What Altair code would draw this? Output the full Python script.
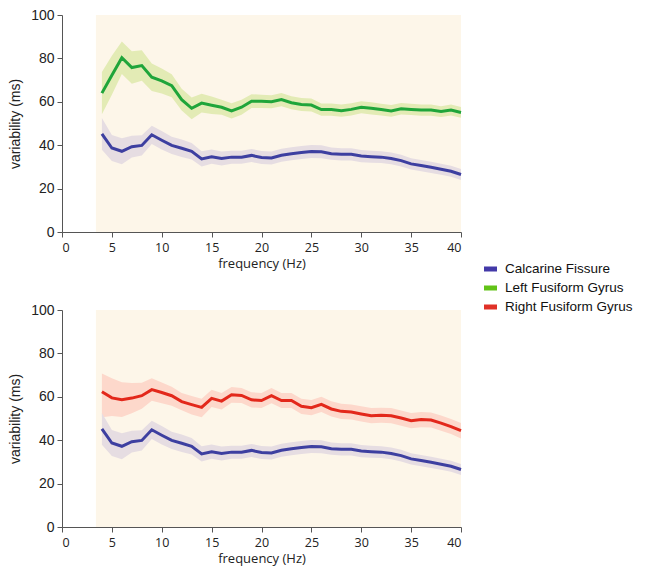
import altair as alt
import pandas as pd

freq = list(range(4, 41))

series_names = ["Calcarine Fissure", "Left Fusiform Gyrus", "Right Fusiform Gyrus"]
line_colors = ["#3d3fa0", "#1fa53a", "#e3281b"]
band_colors = ["#e6dde2", "#e3ebb5", "#fdd8cb"]
legend_colors = ["#4339a8", "#62c318", "#e03127"]

calc_mean = [45.2, 38.7, 37.2, 39.3, 39.9, 44.8, 42.3, 39.9, 38.6, 37.2, 33.7, 34.7, 33.9,
             34.5, 34.5, 35.3, 34.3, 34.1, 35.4, 36.1, 36.6, 37.1, 37.0, 36.1, 35.8, 35.8,
             35.0, 34.7, 34.5, 33.9, 32.9, 31.4, 30.6, 29.8, 28.9, 28.0, 26.5]
calc_err = [7.3, 6.0, 6.0, 5.0, 4.7, 4.2, 4.3, 4.0, 4.0, 3.8, 3.5, 3.3, 3.2, 3.0, 3.0, 3.0,
            3.0, 3.0, 3.0, 3.0, 3.0, 3.0, 3.0, 2.8, 2.8, 2.8, 2.8, 2.8, 2.7, 2.7, 2.7, 2.6,
            2.6, 2.6, 2.5, 2.5, 2.5]

lfg_mean = [64.0, 72.2, 80.3, 75.8, 76.7, 71.3, 69.6, 67.4, 61.0, 57.0, 59.4, 58.4, 57.5,
            55.8, 57.5, 60.3, 60.2, 60.0, 61.0, 59.6, 58.8, 58.5, 56.4, 56.4, 55.9, 56.5,
            57.5, 57.0, 56.4, 55.8, 56.8, 56.5, 56.2, 56.2, 55.5, 56.2, 55.1]
lfg_err = [9.7, 9.0, 7.5, 7.5, 7.0, 6.3, 5.8, 5.3, 5.0, 5.0, 4.3, 4.0, 3.5, 3.5, 3.5, 3.2,
           3.0, 3.0, 3.0, 3.0, 3.0, 3.0, 2.8, 2.8, 2.8, 2.8, 2.8, 2.8, 2.7, 2.7, 2.7, 2.6,
           2.6, 2.6, 2.5, 2.5, 2.5]

rfg_mean = [62.3, 59.5, 58.7, 59.4, 60.5, 63.3, 62.0, 60.5, 57.8, 56.4, 55.1, 59.3, 58.0,
            60.9, 60.6, 58.6, 58.3, 60.5, 58.3, 58.3, 55.6, 55.0, 56.5, 54.4, 53.3, 53.0,
            52.1, 51.3, 51.5, 51.3, 50.2, 49.0, 49.5, 49.3, 47.9, 46.3, 44.4]
rfg_err_hi = [8.4, 9.0, 8.0, 7.0, 6.0, 5.2, 4.6, 4.1, 4.0, 4.0, 4.0, 4.0, 3.8, 3.6, 3.5,
              3.5, 3.5, 3.5, 3.5, 3.5, 3.5, 3.5, 3.5, 3.5, 3.5, 3.5, 3.5, 3.5, 3.5, 3.5,
              3.5, 3.5, 3.5, 3.5, 3.5, 3.5, 3.5]
rfg_err_lo = [11.7, 8.3, 8.0, 7.0, 6.0, 5.1, 5.0, 4.6, 4.0, 4.5, 4.5, 4.0, 3.8, 3.6, 3.5,
              3.5, 3.5, 3.5, 3.5, 3.5, 3.5, 3.5, 3.5, 3.5, 3.5, 3.5, 3.5, 3.5, 3.5, 3.5,
              3.5, 3.5, 3.5, 3.5, 3.5, 3.5, 3.6]

x_ticks = [0, 5, 10, 15, 20, 25, 30, 35, 40]
y_ticks = [0, 20, 40, 60, 80, 100]
bg_start, bg_end = 3.4, 40
bg_color = "#fdf6e9"


def make_df(name, mean, lo_err, hi_err):
    return pd.DataFrame({
        "freq": freq,
        "series": name,
        "mean": mean,
        "lo": [m - e for m, e in zip(mean, lo_err)],
        "hi": [m + e for m, e in zip(mean, hi_err)],
    })


calc_df = make_df(series_names[0], calc_mean, calc_err, calc_err)
lfg_df = make_df(series_names[1], lfg_mean, lfg_err, lfg_err)
rfg_df = make_df(series_names[2], rfg_mean, rfg_err_lo, rfg_err_hi)
bg_df = pd.DataFrame({"x0": [bg_start], "x1": [bg_end], "y0": [0], "y1": [100]})
legend_df = pd.DataFrame({"series": series_names})

x_scale = alt.Scale(domain=[0, 40], nice=False, zero=False)
y_scale = alt.Scale(domain=[0, 100], nice=False)
x_axis = alt.Axis(values=x_ticks, title="frequency (Hz)", labelFont="Open Sans",
                  labelFontSize=12.5, titleFont="Open Sans", titleFontSize=13,
                  titleFontWeight="normal", labelPadding=4, titlePadding=4)
y_axis = alt.Axis(values=y_ticks, title="variability (ms)", labelFont="Liberation Sans",
                  labelFontSize=14, titleFont="Liberation Sans", titleFontSize=14,
                  titleFontWeight="normal", labelPadding=3, titlePadding=8)

fill_scale = alt.Scale(domain=series_names, range=band_colors)
stroke_scale = alt.Scale(domain=series_names, range=line_colors)


def panel(df):
    bg = alt.Chart(bg_df).mark_rect(color=bg_color).encode(
        x=alt.X("x0:Q", scale=x_scale, axis=x_axis),
        x2="x1",
        y=alt.Y("y0:Q", scale=y_scale, axis=y_axis),
        y2="y1",
    )
    band = alt.Chart(df).mark_area(opacity=1).encode(
        x=alt.X("freq:Q", scale=x_scale),
        y=alt.Y("lo:Q", scale=y_scale),
        y2="hi",
        fill=alt.Fill("series:N", scale=fill_scale, legend=None),
    )
    line = alt.Chart(df).mark_line(strokeWidth=3).encode(
        x=alt.X("freq:Q", scale=x_scale),
        y=alt.Y("mean:Q", scale=y_scale),
        stroke=alt.Stroke("series:N", scale=stroke_scale, legend=None),
    )
    return alt.layer(bg, band, line).properties(width=399, height=217)


top = panel(pd.concat([lfg_df, calc_df]))
bottom = panel(pd.concat([rfg_df, calc_df]))

# legend drawn as its own small view
leg_y = alt.Y("series:N", scale=alt.Scale(type="point", domain=series_names,
                                          range=[254, 292], padding=0), axis=None)
leg_swatch = alt.Chart(legend_df).mark_rule(strokeWidth=5).encode(
    y=leg_y,
    x=alt.value(0),
    x2=alt.value(13),
    color=alt.Color("series:N", scale=alt.Scale(domain=series_names, range=legend_colors),
                    legend=None),
)
leg_text = alt.Chart(legend_df).mark_text(
    align="left", baseline="middle", font="Liberation Sans", fontSize=13.5, color="#111"
).encode(
    y=leg_y,
    x=alt.value(21),
    text="series:N",
)
legend_chart = alt.layer(leg_swatch, leg_text).properties(width=165, height=300)

panels = alt.vconcat(top, bottom, spacing=32)

chart = alt.hconcat(panels, legend_chart, spacing=14).resolve_scale(
    x="independent", y="independent", color="independent"
).properties(
    padding=0
).configure_view(
    stroke=None
).configure_axis(
    grid=False, domainColor="#555", tickColor="#555", tickSize=5,
    labelColor="#222", titleColor="#222"
)

chart.save("out.html", embed_options={"renderer": "svg", "actions": False})
